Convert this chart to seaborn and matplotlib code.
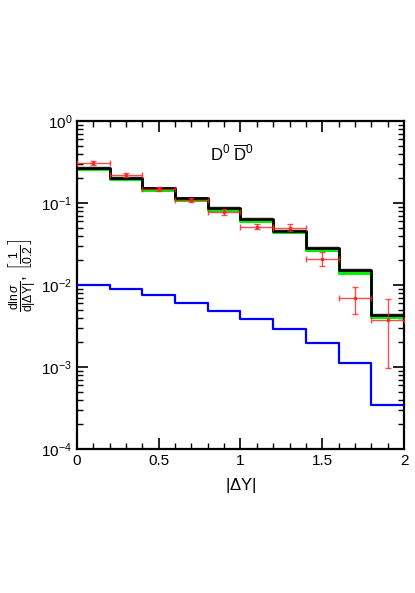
import numpy as np
import pandas as pd
import matplotlib
matplotlib.use("Agg")
import matplotlib.pyplot as plt
import seaborn as sns
from matplotlib.ticker import LogLocator, MultipleLocator, NullFormatter, FuncFormatter

sns.set_theme(style="ticks")
plt.rcParams['font.family'] = ['Liberation Sans', 'DejaVu Sans']
plt.rcParams['mathtext.fontset'] = 'custom'
plt.rcParams['mathtext.rm'] = 'Liberation Sans'
plt.rcParams['mathtext.it'] = 'Liberation Sans:italic'
plt.rcParams['mathtext.bf'] = 'Liberation Sans:bold'
plt.rcParams['text.color'] = 'black'
plt.rcParams['axes.labelcolor'] = 'black'

# bin edges of |dY|
edges = [0.0, 0.2, 0.4, 0.6, 0.8, 1.0, 1.2, 1.4, 1.6, 1.8, 2.0]

# theory histograms (per bin)
black = [0.267, 0.204, 0.151, 0.114, 0.086, 0.0638, 0.046, 0.0285, 0.0152, 0.0043]
green = [0.258, 0.196, 0.145, 0.109, 0.082, 0.0610, 0.0440, 0.0270, 0.0142, 0.0041]
band_lo = [0.255, 0.194, 0.144, 0.108, 0.081, 0.0605, 0.0436, 0.0268, 0.0142, 0.0040]
band_hi = [0.280, 0.214, 0.159, 0.120, 0.091, 0.0672, 0.0485, 0.0300, 0.0162, 0.0046]
blue = [0.0100, 0.0090, 0.00755, 0.0061, 0.00486, 0.0039, 0.00288, 0.00196, 0.00111, 0.000344]

# data points
data_x = [0.1, 0.3, 0.5, 0.7, 0.9, 1.1, 1.3, 1.5, 1.7, 1.9]
data_y = [0.31, 0.22, 0.148, 0.109, 0.078, 0.0514, 0.050, 0.0207, 0.0069, 0.0038]
data_lo = [0.292, 0.207, 0.140, 0.102, 0.072, 0.0480, 0.046, 0.0171, 0.0044, 0.00096]
data_hi = [0.328, 0.233, 0.157, 0.116, 0.084, 0.0550, 0.055, 0.0250, 0.0095, 0.0067]
data_xerr = [0.1] * 10


def steps(vals):
    return pd.DataFrame({"x": edges, "y": list(vals) + [vals[-1]]})


fig = plt.figure(figsize=(4.15, 5.93), dpi=100)
ax = fig.add_axes([0.1855, 0.2428, 0.788, 0.553])

ax.fill_between(edges, list(band_lo) + [band_lo[-1]], list(band_hi) + [band_hi[-1]],
                step="post", color="#b0b0b0", alpha=0.6, linewidth=0, zorder=1)

sns.lineplot(data=steps(green), x="x", y="y", drawstyle="steps-post", color="#00ee00",
             linewidth=2.2, ax=ax, zorder=2)
sns.lineplot(data=steps(black), x="x", y="y", drawstyle="steps-post", color="black",
             linewidth=2.0, ax=ax, zorder=3)
sns.lineplot(data=steps(blue), x="x", y="y", drawstyle="steps-post", color="#0000ff",
             linewidth=1.6, ax=ax, zorder=3)

yerr = [np.array(data_y) - np.array(data_lo), np.array(data_hi) - np.array(data_y)]
ax.errorbar(data_x, data_y, xerr=data_xerr, yerr=yerr, fmt="s", color="#ff2020",
            markersize=1.8, elinewidth=1.0, capsize=2.5, capthick=1.0, alpha=0.8, zorder=4)

ax.set_yscale("log")
ax.set_xlim(0, 2)
ax.set_ylim(1e-4, 1)

ax.xaxis.set_major_locator(MultipleLocator(0.5))
ax.xaxis.set_minor_locator(MultipleLocator(0.1))
ax.xaxis.set_major_formatter(FuncFormatter(lambda v, p: f"{v:g}"))
ax.yaxis.set_major_locator(LogLocator(base=10, numticks=10))
ax.yaxis.set_minor_locator(LogLocator(base=10, subs=np.arange(2, 10), numticks=10))
ax.yaxis.set_minor_formatter(NullFormatter())
ax.yaxis.set_major_formatter(FuncFormatter(lambda v, p: r"$10^{%d}$" % round(np.log10(v))))

ax.tick_params(which="both", direction="in", top=True, right=True, colors="black",
               labelsize=11)
ax.tick_params(which="major", length=8, width=1.2)
ax.tick_params(which="minor", length=4, width=1.0)
for s in ax.spines.values():
    s.set_linewidth(1.6)
    s.set_color("black")

ax.set_xlabel(r"$|\Delta$Y$|$", fontsize=12, labelpad=6)
ax.set_ylabel("")
fig.text(22 / 415, 1 - 275 / 593,
         r"$\frac{\mathrm{d}\ln\sigma}{\mathrm{d}|\Delta \mathrm{Y}|}$, $\left[\frac{1}{0.2}\right]$",
         fontsize=12.5, rotation=90, ha="center", va="center")
ax.text(0.95, 0.4, r"D$^0$ $\overline{\mathrm{D}}^0$", fontsize=12, ha="center", va="center")

fig.savefig("out.png", dpi=100)
